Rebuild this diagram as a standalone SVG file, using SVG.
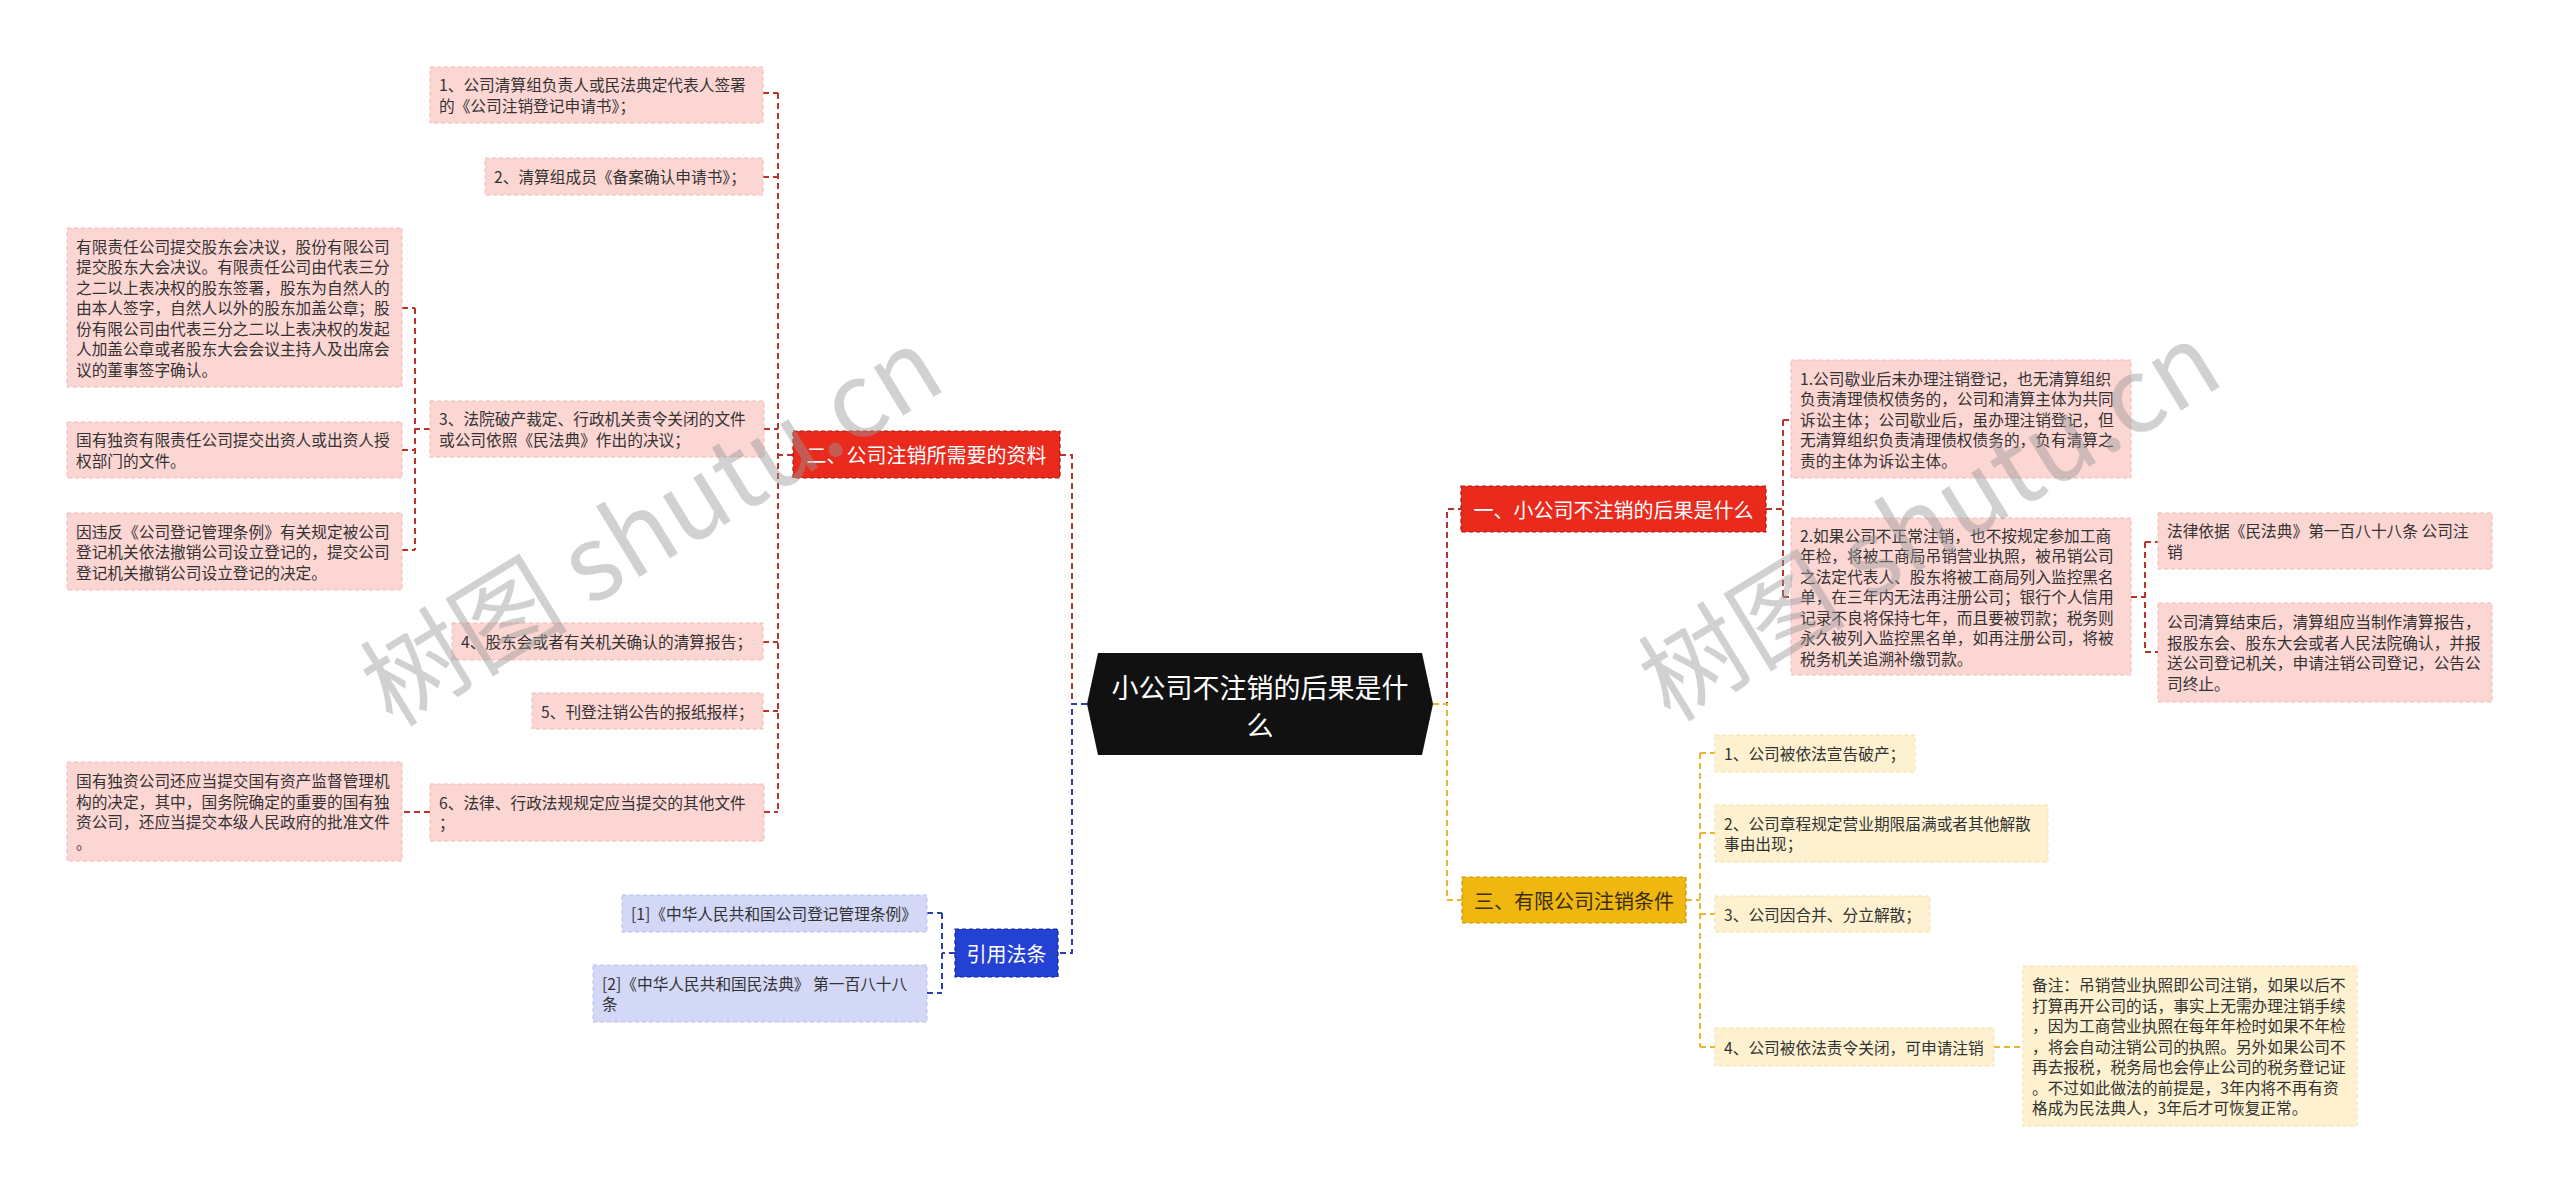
<svg xmlns="http://www.w3.org/2000/svg" width="2560" height="1193" viewBox="0 0 2560 1193">
<style>
  text { font-family: "Noto Sans CJK SC", "Noto Sans", sans-serif; }
  .t { font-size: 15.7px; fill: #333333; dominant-baseline: central; }
  .pink { fill: #fcd6d3; stroke: #f2b9b5; stroke-width: 1; stroke-dasharray: 4 3; }
  .blue { fill: #d3d8f6; stroke: #b7bfee; stroke-width: 1; stroke-dasharray: 4 3; }
  .cream { fill: #fdf1d0; stroke: #f5dfa3; stroke-width: 1; stroke-dasharray: 4 3; }
  .bt { font-size: 20px; fill: #ffffff; dominant-baseline: central; text-anchor: middle; }
  .c { fill: none; stroke-width: 2; stroke-dasharray: 6 4; }
  .cr { stroke: #b8342b; }
  .cb { stroke: #2b3fae; }
  .cy { stroke: #e8b630; }
  .wm { font-size: 104px; fill: #9a9a9a; fill-opacity: 0.45; text-anchor: middle; dominant-baseline: central; }
</style>

<g id="connectors">
  <path class="c cr" d="M1087,704 H1072 V455 H1060"/>
  <path class="c cr" d="M793,455 H778 M778,93 V812 M763,93 H778 M763,177 H778 M764,429 H778 M763,642 H778 M763,711 H778 M764,812 H778"/>
  <path class="c cr" d="M430,429 H415 M415,308 V550 M402,308 H415 M402,450 H415 M402,550 H415"/>
  <path class="c cr" d="M430,812 H402"/>
  <path class="c cb" d="M1087,704 H1072 V953 H1058"/>
  <path class="c cb" d="M955,953 H942 M942,913 V993 M927,913 H942 M927,993 H942"/>
  <path class="c cr" d="M1433,704 H1447 V509 H1461"/>
  <path class="c cr" d="M1766,509 H1783 M1783,420 V597 M1783,420 H1791 M1783,597 H1791"/>
  <path class="c cr" d="M2131,597 H2145 M2145,542 V652 M2145,542 H2158 M2145,652 H2158"/>
  <path class="c cy" d="M1433,704 H1447 V900 H1462"/>
  <path class="c cy" d="M1686,900 H1700 M1700,753 V1047 M1700,753 H1715 M1700,833 H1715 M1700,914 H1715 M1700,1047 H1715"/>
  <path class="c cy" d="M1994,1047 H2023"/>
</g>

<g id="root">
  <path d="M1098,653 L1422,653 L1433,704 L1422,755 L1098,755 L1087,704 Z" fill="#111111"/>
  <text x="1260" y="686" font-size="27" fill="#ffffff" text-anchor="middle" dominant-baseline="central">小公司不注销的后果是什</text>
  <text x="1260" y="724" font-size="27" fill="#ffffff" text-anchor="middle" dominant-baseline="central">么</text>
</g>

<g id="branch-2">
  <rect x="793" y="431" width="267" height="47" fill="#ea2a1d" stroke="#a81a10" stroke-width="1.2" stroke-dasharray="4 3"/>
  <text class="bt" x="926.5" y="454.5">二、公司注销所需要的资料</text>
</g>
<g id="n2-1">
  <rect class="pink" x="430" y="67" width="333" height="56"/>
  <text class="t" x="439" y="84.75">1、公司清算组负责人或民法典定代表人签署</text>
  <text class="t" x="439" y="105.25">的《公司注销登记申请书》；</text>
</g>
<g id="n2-2">
  <rect class="pink" x="485" y="158" width="278" height="37"/>
  <text class="t" x="494" y="176.5">2、清算组成员《备案确认申请书》；</text>
</g>
<g id="n2-3">
  <rect class="pink" x="430" y="401" width="334" height="56"/>
  <text class="t" x="439" y="418.75">3、法院破产裁定、行政机关责令关闭的文件</text>
  <text class="t" x="439" y="439.25">或公司依照《民法典》作出的决议；</text>
</g>
<g id="n2-3-1">
  <rect class="pink" x="67" y="228" width="335" height="159"/>
  <text class="t" x="76" y="246">有限责任公司提交股东会决议，股份有限公司</text>
  <text class="t" x="76" y="266.5">提交股东大会决议。有限责任公司由代表三分</text>
  <text class="t" x="76" y="287">之二以上表决权的股东签署，股东为自然人的</text>
  <text class="t" x="76" y="307.5">由本人签字，自然人以外的股东加盖公章；股</text>
  <text class="t" x="76" y="328">份有限公司由代表三分之二以上表决权的发起</text>
  <text class="t" x="76" y="348.5">人加盖公章或者股东大会会议主持人及出席会</text>
  <text class="t" x="76" y="369">议的董事签字确认。</text>
</g>
<g id="n2-3-2">
  <rect class="pink" x="67" y="422" width="335" height="56"/>
  <text class="t" x="76" y="439.75">国有独资有限责任公司提交出资人或出资人授</text>
  <text class="t" x="76" y="460.25">权部门的文件。</text>
</g>
<g id="n2-3-3">
  <rect class="pink" x="67" y="513" width="335" height="77"/>
  <text class="t" x="76" y="531">因违反《公司登记管理条例》有关规定被公司</text>
  <text class="t" x="76" y="551.5">登记机关依法撤销公司设立登记的，提交公司</text>
  <text class="t" x="76" y="572">登记机关撤销公司设立登记的决定。</text>
</g>
<g id="n2-4">
  <rect class="pink" x="452" y="623" width="311" height="37"/>
  <text class="t" x="461" y="641.5">4、股东会或者有关机关确认的清算报告；</text>
</g>
<g id="n2-5">
  <rect class="pink" x="532" y="693" width="231" height="36"/>
  <text class="t" x="541" y="711">5、刊登注销公告的报纸报样；</text>
</g>
<g id="n2-6">
  <rect class="pink" x="430" y="784" width="334" height="57"/>
  <text class="t" x="439" y="802.25">6、法律、行政法规规定应当提交的其他文件</text>
  <text class="t" x="439" y="822.75">；</text>
</g>
<g id="n2-6-1">
  <rect class="pink" x="67" y="762" width="335" height="99"/>
  <text class="t" x="76" y="780.75">国有独资公司还应当提交国有资产监督管理机</text>
  <text class="t" x="76" y="801.25">构的决定，其中，国务院确定的重要的国有独</text>
  <text class="t" x="76" y="821.75">资公司，还应当提交本级人民政府的批准文件</text>
  <text class="t" x="76" y="842.25">。</text>
</g>

<g id="branch-ref">
  <rect x="955" y="929" width="103" height="48" fill="#2341d3" stroke="#15279a" stroke-width="1.2" stroke-dasharray="4 3"/>
  <text class="bt" x="1006.5" y="953">引用法条</text>
</g>
<g id="ref-1">
  <rect class="blue" x="622" y="895" width="305" height="37"/>
  <text class="t" x="631" y="913.5">[1]《中华人民共和国公司登记管理条例》</text>
</g>
<g id="ref-2">
  <rect class="blue" x="593" y="965" width="334" height="57"/>
  <text class="t" x="602" y="983.25">[2]《中华人民共和国民法典》 第一百八十八</text>
  <text class="t" x="602" y="1003.75">条</text>
</g>

<g id="branch-1">
  <rect x="1461" y="486" width="305" height="46" fill="#ea2a1d" stroke="#a81a10" stroke-width="1.2" stroke-dasharray="4 3"/>
  <text class="bt" x="1613.5" y="509">一、小公司不注销的后果是什么</text>
</g>
<g id="n1-1">
  <rect class="pink" x="1791" y="360" width="340" height="118"/>
  <text class="t" x="1800" y="378">1.公司歇业后未办理注销登记，也无清算组织</text>
  <text class="t" x="1800" y="398.5">负责清理债权债务的，公司和清算主体为共同</text>
  <text class="t" x="1800" y="419">诉讼主体；公司歇业后，虽办理注销登记，但</text>
  <text class="t" x="1800" y="439.5">无清算组织负责清理债权债务的，负有清算之</text>
  <text class="t" x="1800" y="460">责的主体为诉讼主体。</text>
</g>
<g id="n1-2">
  <rect class="pink" x="1791" y="518" width="340" height="157"/>
  <text class="t" x="1800" y="535">2.如果公司不正常注销，也不按规定参加工商</text>
  <text class="t" x="1800" y="555.5">年检，将被工商局吊销营业执照，被吊销公司</text>
  <text class="t" x="1800" y="576">之法定代表人、股东将被工商局列入监控黑名</text>
  <text class="t" x="1800" y="596.5">单，在三年内无法再注册公司；银行个人信用</text>
  <text class="t" x="1800" y="617">记录不良将保持七年，而且要被罚款；税务则</text>
  <text class="t" x="1800" y="637.5">永久被列入监控黑名单，如再注册公司，将被</text>
  <text class="t" x="1800" y="658">税务机关追溯补缴罚款。</text>
</g>
<g id="n1-2-1">
  <rect class="pink" x="2158" y="513" width="334" height="56"/>
  <text class="t" x="2167" y="530.75">法律依据《民法典》第一百八十八条 公司注</text>
  <text class="t" x="2167" y="551.25">销</text>
</g>
<g id="n1-2-2">
  <rect class="pink" x="2158" y="603" width="334" height="99"/>
  <text class="t" x="2167" y="621.75">公司清算结束后，清算组应当制作清算报告，</text>
  <text class="t" x="2167" y="642.25">报股东会、股东大会或者人民法院确认，并报</text>
  <text class="t" x="2167" y="662.75">送公司登记机关，申请注销公司登记，公告公</text>
  <text class="t" x="2167" y="683.25">司终止。</text>
</g>

<g id="branch-3">
  <rect x="1462" y="877" width="224" height="46" fill="#efb70f" stroke="#c99300" stroke-width="1.2" stroke-dasharray="4 3"/>
  <text class="bt" x="1574" y="900" style="fill:#3a2e10">三、有限公司注销条件</text>
</g>
<g id="n3-1">
  <rect class="cream" x="1715" y="735" width="200" height="37"/>
  <text class="t" x="1724" y="753.5">1、公司被依法宣告破产；</text>
</g>
<g id="n3-2">
  <rect class="cream" x="1715" y="805" width="333" height="57"/>
  <text class="t" x="1724" y="823.25">2、公司章程规定营业期限届满或者其他解散</text>
  <text class="t" x="1724" y="843.75">事由出现；</text>
</g>
<g id="n3-3">
  <rect class="cream" x="1715" y="896" width="215" height="36"/>
  <text class="t" x="1724" y="914">3、公司因合并、分立解散；</text>
</g>
<g id="n3-4">
  <rect class="cream" x="1715" y="1028" width="279" height="38"/>
  <text class="t" x="1724" y="1047">4、公司被依法责令关闭，可申请注销</text>
</g>
<g id="n3-4-1">
  <rect class="cream" x="2023" y="966" width="334" height="160"/>
  <text class="t" x="2032" y="984.5">备注：吊销营业执照即公司注销，如果以后不</text>
  <text class="t" x="2032" y="1005">打算再开公司的话，事实上无需办理注销手续</text>
  <text class="t" x="2032" y="1025.5">，因为工商营业执照在每年年检时如果不年检</text>
  <text class="t" x="2032" y="1046">，将会自动注销公司的执照。另外如果公司不</text>
  <text class="t" x="2032" y="1066.5">再去报税，税务局也会停止公司的税务登记证</text>
  <text class="t" x="2032" y="1087">。不过如此做法的前提是，3年内将不再有资</text>
  <text class="t" x="2032" y="1107.5">格成为民法典人，3年后才可恢复正常。</text>
</g>

<g id="watermark">
  <text class="wm" transform="translate(647,519) rotate(-31.5)">树图 shutu.cn</text>
  <text class="wm" transform="translate(1925,514) rotate(-31.5)">树图 shutu.cn</text>
</g>
</svg>
